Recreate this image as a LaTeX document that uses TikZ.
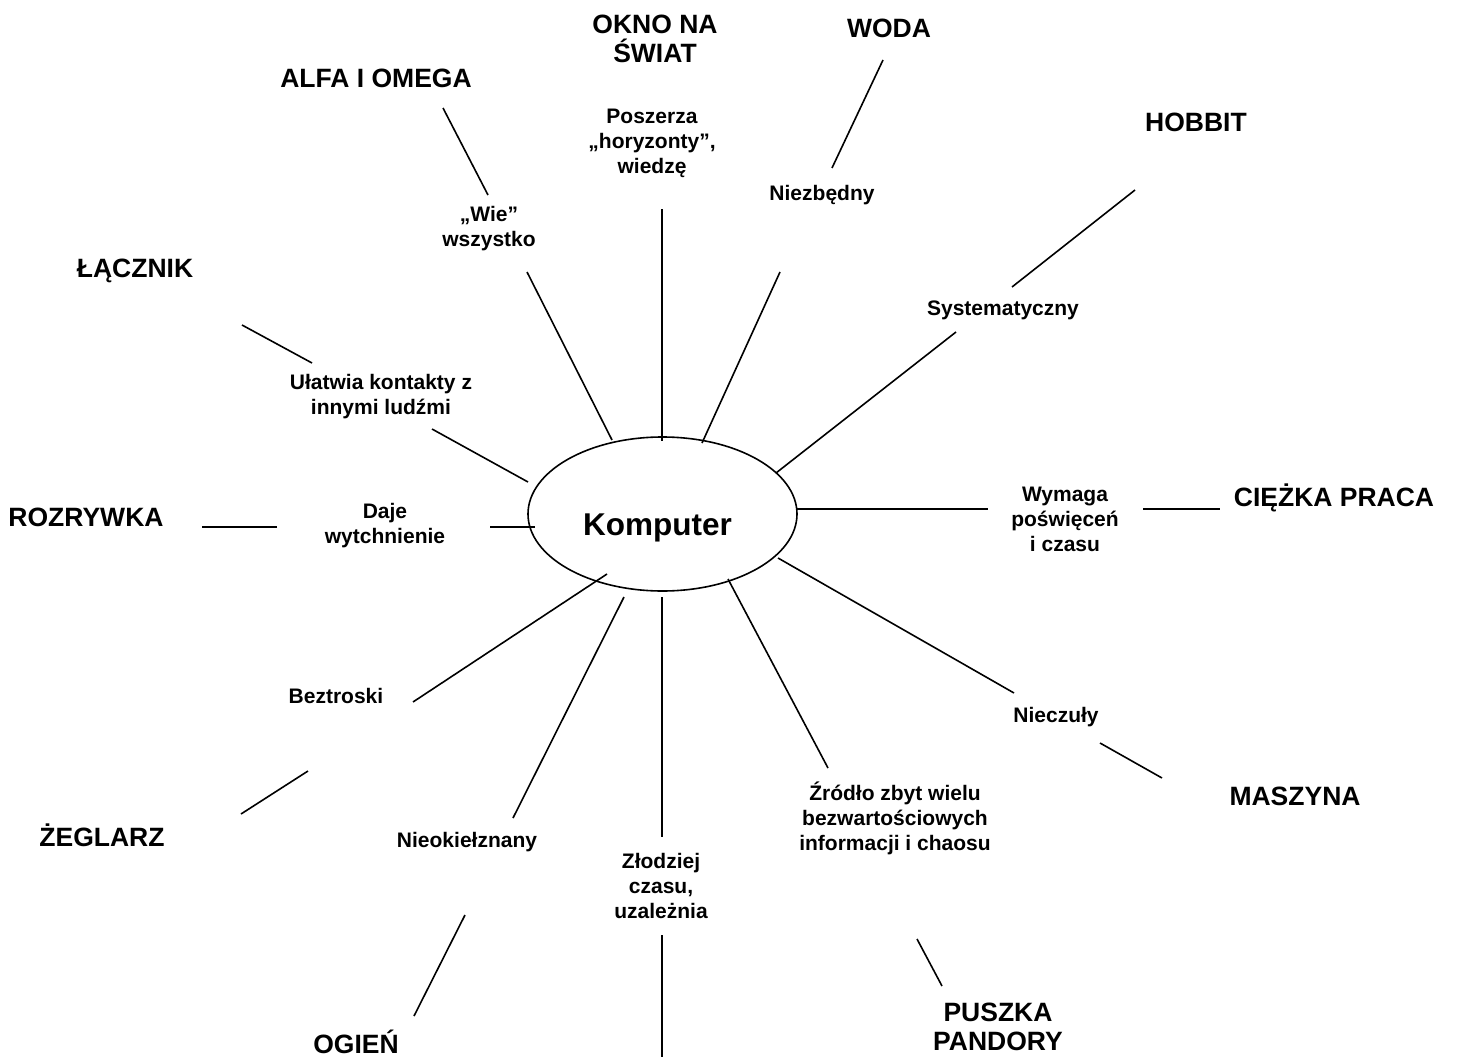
\documentclass[tikz,border=0pt]{standalone}
\usepackage{fontspec}
\setmainfont{Liberation Sans}
\usetikzlibrary{shapes.geometric}
\tikzset{
  big/.style={font=\fontsize{26.5}{29.5}\selectfont\bfseries, align=center, inner sep=0pt},
  small/.style={font=\fontsize{21}{25}\selectfont\bfseries, align=center, inner sep=0pt},
  ln/.style={line width=1.6pt, line cap=butt},
}
\begin{document}
\begin{tikzpicture}[x=1pt,y=-1pt]
\useasboundingbox[fill=white] (0,0) rectangle (1457,1057);

% central ellipse
\node[ellipse, draw, line width=1.6pt, minimum width=269pt, minimum height=154pt, inner sep=0pt,
      font=\fontsize{31.5}{36}\selectfont\bfseries] (komp) at (662.5,514)
      {\hspace*{-10pt}\raisebox{-21pt}[0pt][0pt]{Komputer}};

% texts
\node[big] (okno) at (655,39) {OKNO NA\\ŚWIAT};
\node[big] (woda) at (889,28) {WODA};
\node[small] (posz) at (652,143) {Poszerza\\„horyzonty”,\\wiedzę};
\node[small] (niez) at (822,195) {Niezbędny};
\node[big] (alfa) at (376,78) {ALFA I OMEGA};
\node[small] (wie) at (489,229) {„Wie”\\wszystko};
\node[big] (lacz) at (135,271) {ŁĄCZNIK};
\node[small] (ulat) at (381,397) {Ułatwia kontakty z\\innymi ludźmi};
\node[big] (hobb) at (1196,122) {HOBBIT};
\node[small] (syst) at (1003,310) {Systematyczny};
\node[big] (rozr) at (86,517) {ROZRYWKA};
\node[small] (daje) at (385,526) {Daje\\wytchnienie};
\node[small] (wyma) at (1065,519) {Wymaga\\poświęceń\\i czasu};
\node[big] (ciez) at (1334,498) {CIĘŻKA PRACA};
\node[small] (bezt) at (336,696) {Beztroski};
\node[small] (niec) at (1056,717) {Nieczuły};
\node[big] (masz) at (1295,796) {MASZYNA};
\node[big] (zegl) at (102,835) {ŻEGLARZ};
\node[small] (nieo) at (467,842) {Nieokiełznany};
\node[small] (zrod) at (895,818) {Źródło zbyt wielu\\bezwartościowych\\informacji i chaosu};
\node[small] (zlod) at (661,886) {Złodziej\\czasu,\\uzależnia};
\node[big] (ogie) at (356,1042) {OGIEŃ};
\node[big] (pusz) at (998,1027) {PUSZKA\\PANDORY};

% connector end points
\coordinate (t1) at (662,209);  \coordinate (t2) at (662,441);
\coordinate (a1) at (443,108);  \coordinate (a2) at (488,195);
\coordinate (a3) at (527,272);  \coordinate (a4) at (612,440);
\coordinate (w1) at (883,60);   \coordinate (w2) at (832,168);
\coordinate (w3) at (780,272);  \coordinate (w4) at (702,443);
\coordinate (h1) at (1135,190); \coordinate (h2) at (1012,287);
\coordinate (h3) at (956,332);  \coordinate (h4) at (776,473);
\coordinate (r1) at (797,509);  \coordinate (r2) at (988,509);
\coordinate (r3) at (1143,509); \coordinate (r4) at (1220,509);
\coordinate (m1) at (778,558);  \coordinate (m2) at (1014,693);
\coordinate (m3) at (1100,743); \coordinate (m4) at (1162,778);
\coordinate (p1) at (728,579);  \coordinate (p2) at (828,768);
\coordinate (p3) at (917,939);  \coordinate (p4) at (942,986);
\coordinate (d1) at (662,597);  \coordinate (d2) at (662,837);
\coordinate (d3) at (662,935);  \coordinate (d4) at (662,1057);
\coordinate (o1) at (624,597);  \coordinate (o2) at (513,818);
\coordinate (o3) at (465,915);  \coordinate (o4) at (414,1016);
\coordinate (b1) at (607,574);  \coordinate (b2) at (413,702);
\coordinate (b3) at (308,771);  \coordinate (b4) at (241,814);
\coordinate (l1) at (535,527);  \coordinate (l2) at (490,527);
\coordinate (l3) at (277,527);  \coordinate (l4) at (202,527);
\coordinate (u1) at (528,482);  \coordinate (u2) at (432,429);
\coordinate (u3) at (312,363);  \coordinate (u4) at (242,325);

\draw[ln] (t1) -- (t2);
\draw[ln] (a1) -- (a2);  \draw[ln] (a3) -- (a4);
\draw[ln] (w1) -- (w2);  \draw[ln] (w3) -- (w4);
\draw[ln] (h1) -- (h2);  \draw[ln] (h3) -- (h4);
\draw[ln] (r1) -- (r2);  \draw[ln] (r3) -- (r4);
\draw[ln] (m1) -- (m2);  \draw[ln] (m3) -- (m4);
\draw[ln] (p1) -- (p2);  \draw[ln] (p3) -- (p4);
\draw[ln] (d1) -- (d2);  \draw[ln] (d3) -- (d4);
\draw[ln] (o1) -- (o2);  \draw[ln] (o3) -- (o4);
\draw[ln] (b1) -- (b2);  \draw[ln] (b3) -- (b4);
\draw[ln] (l1) -- (l2);  \draw[ln] (l3) -- (l4);
\draw[ln] (u1) -- (u2);  \draw[ln] (u3) -- (u4);
\end{tikzpicture}
\end{document}
